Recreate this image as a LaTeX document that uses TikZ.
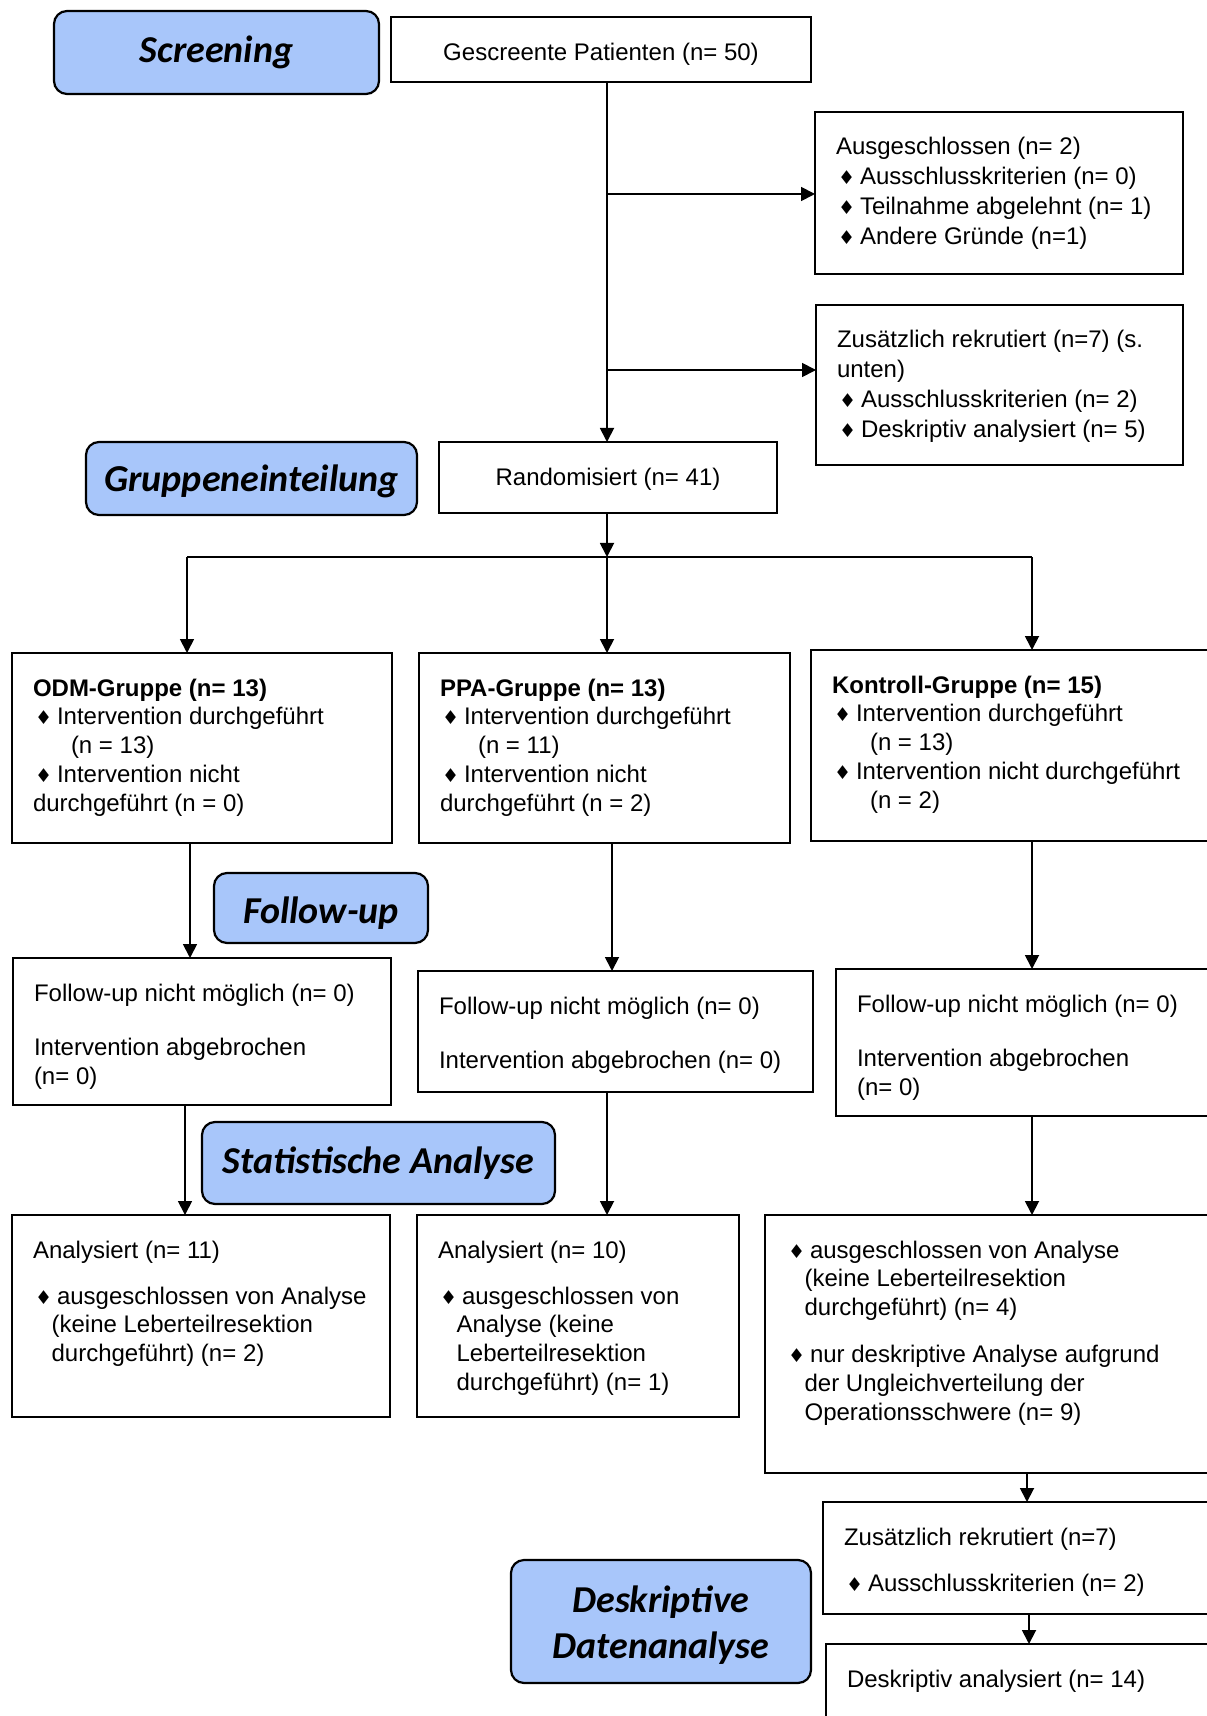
\documentclass[tikz,border=0pt]{standalone}
\usepackage{fontspec}
\setmainfont{Liberation Sans}
\newfontfamily\calibrifont{Carlito}
\newfontfamily\symfont{DejaVu Sans}
\usetikzlibrary{arrows.meta}

\definecolor{phaseblue}{RGB}{168,198,250}
\newcommand{\boxfont}{\fontsize{12}{14.4}\selectfont}
\newcommand{\wideboxfont}{\fontsize{12}{14.9}\selectfont}
\newcommand{\phasefont}{\calibrifont\bfseries\itshape\fontsize{19}{23}\selectfont}
\newcommand{\dia}{\makebox[12pt][l]{\hspace{1pt}{\symfont\fontsize{9.5}{9.5}\selectfont ♦}}}
\newcommand{\ind}{\hspace*{9.3pt}}
\newcommand{\dropdown}[2]{\raisebox{-#1}[\height][\depth]{#2}}
\newcommand{\boxtext}[3]{\parbox[c][#2][t]{#1}{\raggedright\leftskip=10.5pt\relax\vspace*{11.5pt}\rule{0pt}{10pt}#3}}

\tikzset{
  box/.style={draw, line width=1pt, anchor=north west, inner sep=0pt, outer sep=0pt, font=\boxfont},
  cbox/.style={box, align=center},
  phase/.style={draw, line width=1.1pt, rounded corners=6.5pt, fill=phaseblue, anchor=north west, inner sep=0pt, outer sep=0pt, font=\phasefont, align=center},
  arr/.style={line width=0.9pt, -{Triangle[length=7pt,width=7pt]}}
}

\begin{document}
\begin{tikzpicture}[x=0.5pt, y=-0.5pt]
    \path[use as bounding box, fill=white] (0,0) rectangle (1206,1716);

    % phases
    \node[phase, minimum width=162.5pt, minimum height=41.5pt] (screen) at (54,11) {Screening};
    \node[phase, minimum width=165.5pt, minimum height=36.5pt] (grp) at (86,442) {\dropdown{1.5pt}{Gruppeneinteilung}};
    \node[phase, minimum width=107pt, minimum height=35pt] (fu) at (214,873) {\dropdown{2.5pt}{Follow-up}};
    \node[phase, minimum width=176.5pt, minimum height=41pt] (stat) at (202,1122) {Statistische Analyse};
    \node[phase, minimum width=150pt, minimum height=61.5pt] (deskph) at (511,1560) {\dropdown{2pt}{Deskriptive}\\\dropdown{2pt}{Datenanalyse}};

    % screening
    \node[cbox, minimum width=210pt, minimum height=32.5pt] (gescr) at (391,17) {\dropdown{2.5pt}{Gescreente Patienten (n= 50)}};
    \node[box, font=\wideboxfont] (ausg) at (815,112) {\boxtext{184pt}{81pt}{Ausgeschlossen (n= 2)\\
        \dia Ausschlusskriterien (n= 0)\\
        \dia Teilnahme abgelehnt (n= 1)\\
        \dia Andere Gründe (n=1)}};
    \node[box, font=\wideboxfont] (zus) at (816,305) {\boxtext{183.5pt}{80pt}{Zusätzlich rekrutiert (n=7) (s.\\
        unten)\\
        \dia Ausschlusskriterien (n= 2)\\
        \dia Deskriptiv analysiert (n= 5)}};
    \node[cbox, minimum width=169pt, minimum height=35.5pt] (rand) at (439,442) {\dropdown{1pt}{Randomisiert (n= 41)}};

    % groups
    \node[box] (odm) at (12,653) {\boxtext{190pt}{95pt}{\textbf{ODM-Gruppe (n= 13)}\\
        \dia Intervention durchgeführt\\
        \hspace*{19pt}(n = 13)\\
        \dia Intervention nicht\\
        durchgeführt (n = 0)}};
    \node[box] (ppa) at (419,653) {\boxtext{185.5pt}{95pt}{\textbf{PPA-Gruppe (n= 13)}\\
        \dia Intervention durchgeführt\\
        \hspace*{19pt}(n = 11)\\
        \dia Intervention nicht\\
        durchgeführt (n = 2)}};
    \node[box] (ktr) at (811,650) {\boxtext{207pt}{95.5pt}{\textbf{Kontroll-Gruppe (n= 15)}\\
        \dia Intervention durchgeführt\\
        \hspace*{19pt}(n = 13)\\
        \dia Intervention nicht durchgeführt\\
        \hspace*{19pt}(n = 2)}};

    % follow-up
    \node[box] (odmfu) at (13,958) {\boxtext{189pt}{73.5pt}{Follow-up nicht möglich (n= 0)\\[12.8pt]
        Intervention abgebrochen\\
        (n= 0)}};
    \node[box] (ppafu) at (418,971) {\boxtext{197.5pt}{60.5pt}{Follow-up nicht möglich (n= 0)\\[12.8pt]
        Intervention abgebrochen (n= 0)}};
    \node[box] (ktrfu) at (836,969) {\boxtext{194.5pt}{73.5pt}{Follow-up nicht möglich (n= 0)\\[12.8pt]
        Intervention abgebrochen\\
        (n= 0)}};

    % analysis
    \node[box] (odman) at (12,1215) {\boxtext{189pt}{101pt}{Analysiert (n= 11)\\[8.6pt]
        \dia ausgeschlossen von Analyse\\
        \ind(keine Leberteilresektion\\
        \ind durchgeführt) (n= 2)}};
    \node[box] (ppaan) at (417,1215) {\boxtext{161pt}{101pt}{Analysiert (n= 10)\\[8.6pt]
        \dia ausgeschlossen von\\
        \ind Analyse (keine\\
        \ind Leberteilresektion\\
        \ind durchgeführt) (n= 1)}};
    \node[box] (ktran) at (765,1215) {\boxtext{230pt}{129pt}{\dia ausgeschlossen von Analyse\\
        \ind(keine Leberteilresektion\\
        \ind durchgeführt) (n= 4)\\[9pt]
        \dia nur deskriptive Analyse aufgrund\\
        \ind der Ungleichverteilung der\\
        \ind Operationsschwere (n= 9)}};
    \node[box] (zus2) at (823,1502) {\boxtext{201pt}{56pt}{Zusätzlich rekrutiert (n=7)\\[8.6pt]
        \dia Ausschlusskriterien (n= 2)}};
    \node[box] (desk) at (826,1644) {\boxtext{199.5pt}{48pt}{Deskriptiv analysiert (n= 14)}};

    % columns of the connectors
    \coordinate (m) at (607,0);
    \coordinate (b1) at (607,194);
    \coordinate (b2) at (607,370);
    \coordinate (split) at (607,557);
    \coordinate (c1) at (187,0);
    \coordinate (c3) at (1032,0);
    \coordinate (f1) at (190,0);
    \coordinate (f2) at (612,0);
    \coordinate (a1) at (185,0);
    \coordinate (d1) at (1027,0);
    \coordinate (d2) at (1029,0);

    \draw[arr] (gescr.south -| m) -- (rand.north -| m);
    \draw[arr] (b1) -- (b1 -| ausg.west);
    \draw[arr] (b2) -- (b2 -| zus.west);
    \draw[arr] (rand.south -| m) -- (split);
    \draw[line width=0.9pt] (split -| c1) -- (split -| c3);
    \foreach \g/\c in {odm/c1, ppa/m, ktr/c3}
        \draw[arr] (split -| \c) -- (\g.north -| \c);
    \foreach \a/\b/\c in {odm/odmfu/f1, ppa/ppafu/f2, ktr/ktrfu/c3}
        \draw[arr] (\a.south -| \c) -- (\b.north -| \c);
    \foreach \a/\b/\c in {odmfu/odman/a1, ppafu/ppaan/m, ktrfu/ktran/c3}
        \draw[arr] (\a.south -| \c) -- (\b.north -| \c);
    \draw[arr] (ktran.south -| d1) -- (zus2.north -| d1);
    \draw[arr] (zus2.south -| d2) -- (desk.north -| d2);
\end{tikzpicture}
\end{document}
